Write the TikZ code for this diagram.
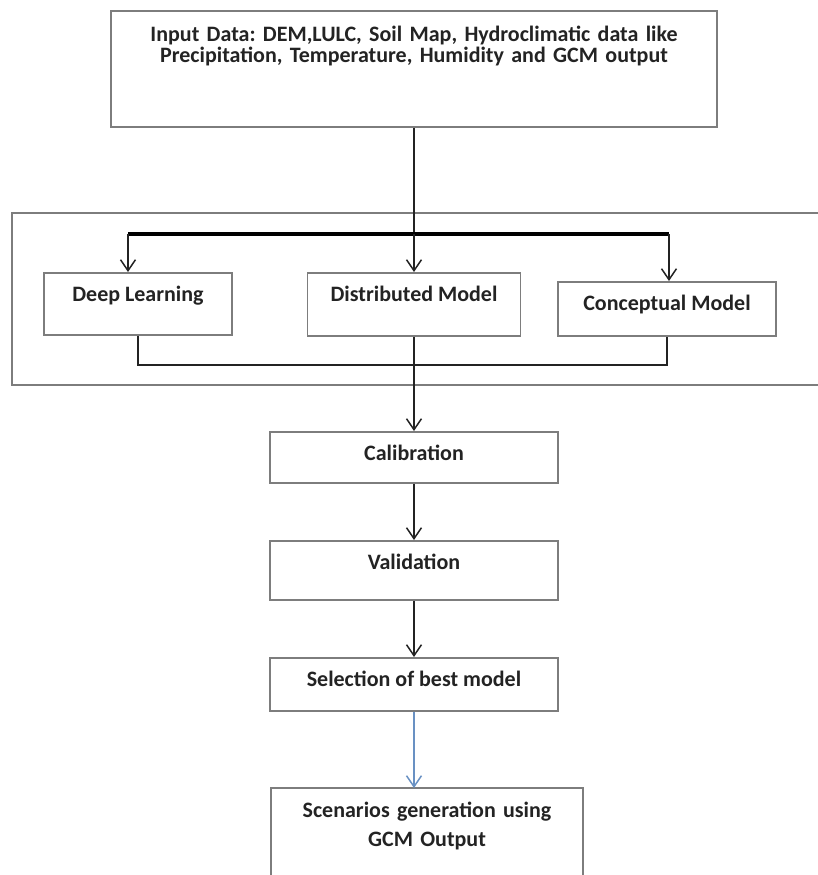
\documentclass[tikz,border=0pt]{standalone}
\usepackage{fontspec}
\setmainfont{Carlito}
\frenchspacing
\usetikzlibrary{arrows.meta,positioning,calc}
\definecolor{boxgray}{RGB}{125,125,125}
\definecolor{inkgray}{RGB}{35,35,35}
\definecolor{linkblue}{RGB}{105,145,195}

\begin{document}
\begin{tikzpicture}[x=0.5pt,y=-0.5pt,>={Straight Barb[length=5.5pt,width=7.5pt]},
  every node/.style={font=\fontsize{11}{10.5}\selectfont\bfseries,text=inkgray},
  box/.style={draw=boxgray,line width=0.9pt,inner xsep=3pt,inner ysep=6.5pt,text height=8pt,align=center,anchor=north},
  link/.style={->,draw=inkgray,line width=0.75pt}]
\useasboundingbox (0,0) rectangle (818,875);
\node[box,text width=297pt,inner ysep=7.5pt,text depth=35pt] (inp) at (414,10) {Input Data: DEM,LULC, Soil Map, Hydroclimatic data like\\Precipitation, Temperature, Humidity and GCM output};
\node[box,minimum width=94pt,text depth=10pt] (dl) at (138,272) {Deep Learning};
\node[box,minimum width=106.5pt,text depth=10.5pt] (dm) at (414,272) {Distributed Model};
\node[box,minimum width=109pt,text depth=6pt] (cm) at (667,281) {Conceptual Model};
\node[box,minimum width=144pt,text depth=4.5pt] (cal) at (414,431) {Calibration};
\node[box,minimum width=144pt,text depth=8.5pt] (val) at (414,540) {Validation};
\node[box,minimum width=144pt,text depth=5.5pt] (sel) at (414,657) {Selection of best model};
\node[box,draw=none,text width=149pt,text depth=22.5pt,font=\fontsize{11}{14.5}\selectfont\bfseries] (scn) at (427,788) {Scenarios generation using\\GCM Output};
\draw[boxgray,line width=0.9pt] (scn.south west) -- (scn.north west) -- (scn.north east) -- (scn.south east);
\draw[boxgray,line width=0.9pt] (818,213) -- (12,213) -- (12,385) -- (818,385);
\coordinate (bl) at (128,234);
\coordinate (bm) at (414,234);
\coordinate (br) at (669,234);
\coordinate (jn) at (414,365);
\draw[inkgray,line width=0.75pt] (inp.south) -- (bm);
\draw[black,line width=2.2pt] (bl) -- (br);
\draw[link] (bl) -- (bl |- dl.north);
\draw[link] (bm) -- (dm.north);
\draw[link] (br) -- (br |- cm.north);
\draw[inkgray,line width=0.75pt] (dl.south) |- (jn) -| (cm.south);
\draw[link] (dm.south) -- (cal.north);
\draw[link] (cal) -- (val);
\draw[link] (val) -- (sel);
\draw[link,draw=linkblue] (sel.south) -- (sel.south |- scn.north);
\end{tikzpicture}
\end{document}
